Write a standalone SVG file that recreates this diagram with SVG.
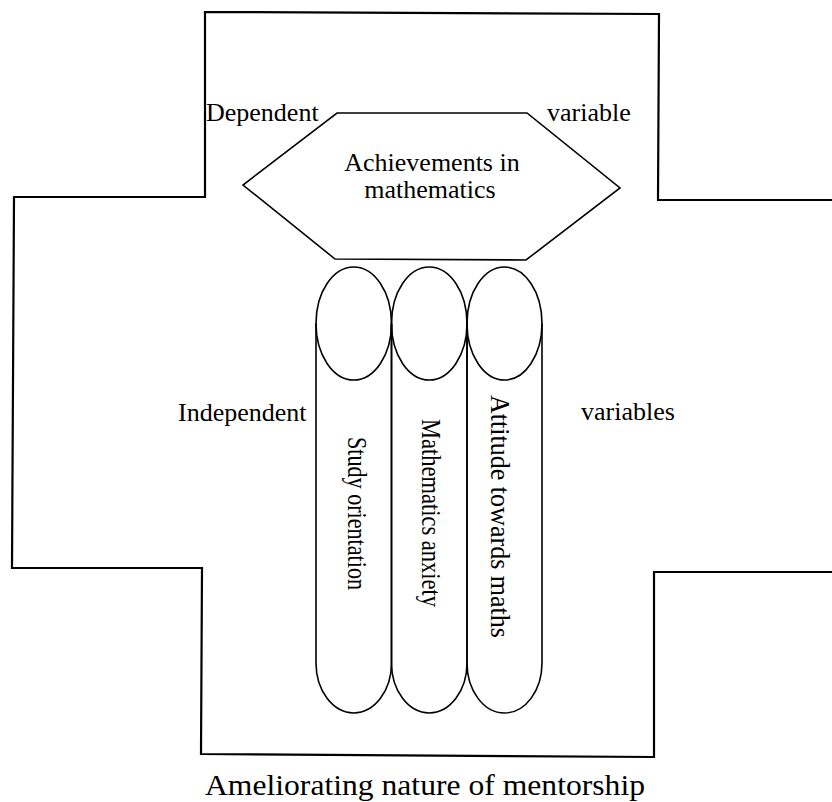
<svg xmlns="http://www.w3.org/2000/svg" width="832" height="802" viewBox="0 0 832 802">
<style>
.ln{fill:none;stroke:#000;stroke-width:1.6;stroke-linejoin:miter}
.out{fill:none;stroke:#000;stroke-width:2.2}
.t{font-family:"Liberation Serif","Times New Roman",serif;font-size:26px;fill:#000}
.v{font-family:"Liberation Serif","Times New Roman",serif;font-size:27px;fill:#000}
</style>
<rect width="832" height="802" fill="#fff"/>
<g id="mentorship-frame">
<path class="out" d="M832,200 L658,200 L659,14 L205,12 L205,197 L14,197 L12,568 L202,568 L201,754 L654,757 L654,572 L832,572"/>
<text class="t" x="205" y="795" font-size="30" textLength="440" lengthAdjust="spacingAndGlyphs" style="font-size:30px">Ameliorating nature of mentorship</text>
</g>
<g id="dependent-label">
<text class="t" x="206" y="121">Dependent</text>
<text class="t" x="547" y="121">variable</text>
</g>
<g id="achievements">
<polygon class="ln" points="337,113 527,113 620,188 526,260 335,259 243,185"/>
<text class="t" x="432" y="171" text-anchor="middle">Achievements in</text>
<text class="t" x="430" y="198" text-anchor="middle">mathematics</text>
</g>
<g id="independent-label">
<text class="t" x="178" y="421">Independent</text>
<text class="t" x="581" y="420">variables</text>
</g>
<g id="study-orientation">
<ellipse class="ln" cx="353.75" cy="323.5" rx="37.75" ry="56.5"/>
<path class="ln" d="M316,323.5 V663 A37.75,50 0 0 0 391.5,663 V323.5"/>
<text class="v" transform="translate(348,513.5) rotate(90)" text-anchor="middle" textLength="153" lengthAdjust="spacingAndGlyphs">Study orientation</text>
</g>
<g id="mathematics-anxiety">
<ellipse class="ln" cx="429.25" cy="323.5" rx="37.75" ry="56.5"/>
<path class="ln" d="M391.5,323.5 V663 A37.75,50 0 0 0 467,663 V323.5"/>
<text class="v" transform="translate(422,513) rotate(90)" text-anchor="middle" textLength="188" lengthAdjust="spacingAndGlyphs">Mathematics anxiety</text>
</g>
<g id="attitude-towards-maths">
<ellipse class="ln" cx="504.5" cy="323.5" rx="37.5" ry="56.5"/>
<path class="ln" d="M467,323.5 V663 A37.5,50 0 0 0 542,663 V323.5"/>
<text class="v" transform="translate(491,516.5) rotate(90)" text-anchor="middle" textLength="243" lengthAdjust="spacingAndGlyphs">Attitude towards maths</text>
</g>
<g id="connectors"></g>
</svg>
